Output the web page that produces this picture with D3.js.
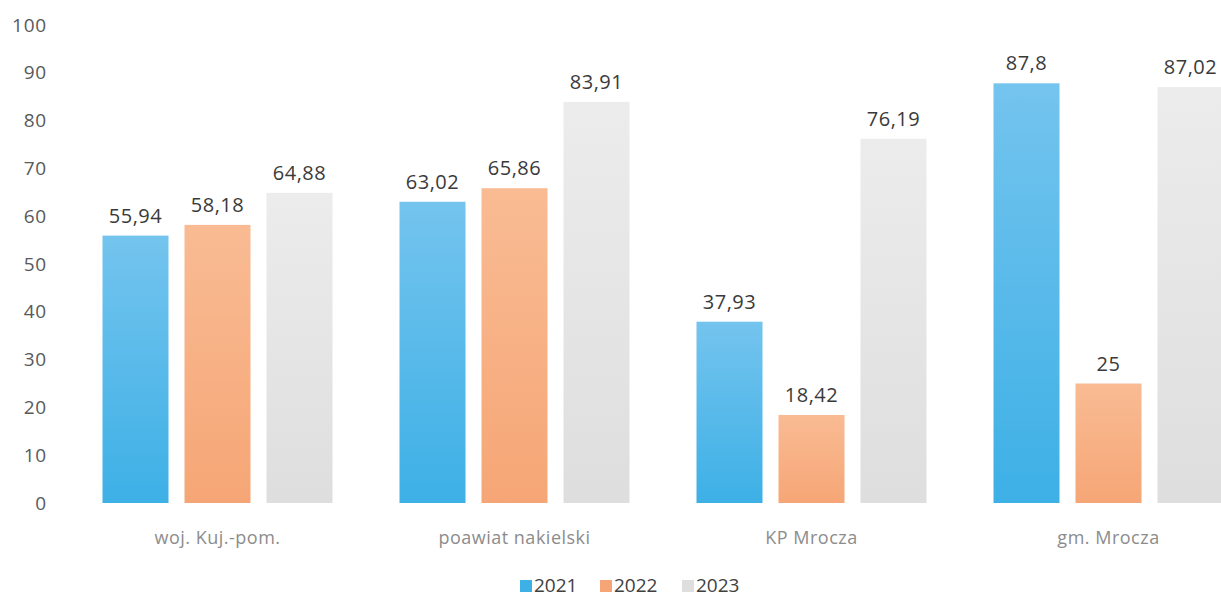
<!DOCTYPE html>
<html>
<head>
<meta charset="utf-8">
<script src="https://cdn.jsdelivr.net/npm/d3@7"></script>
<style>
  html, body { margin: 0; padding: 0; background: #fff; }
  svg { display: block; font-family: "Open Sans", sans-serif; }
</style>
</head>
<body>
<svg id="chart"></svg>
<script>
const categories = ["woj. Kuj.-pom.", "poawiat nakielski", "KP Mrocza", "gm. Mrocza"];
const series = ["2021", "2022", "2023"];
const values2021 = [55.94, 63.02, 37.93, 87.8];
const values2022 = [58.18, 65.86, 18.42, 25];
const values2023 = [64.88, 83.91, 76.19, 87.02];
const yTicks = [0, 10, 20, 30, 40, 50, 60, 70, 80, 90, 100];

const width = 1221, height = 598;
const svg = d3.select("#chart").attr("width", width).attr("height", height);

const colors = {
    "2021": ["#74c4ee", "#3db0e6"],
    "2022": ["#f9bb93", "#f6a676"],
    "2023": ["#ececec", "#dedede"]
};

// gradients for bars
const defs = svg.append("defs");
series.forEach(s => {
    const g = defs.append("linearGradient")
        .attr("id", "grad" + s)
        .attr("x1", 0).attr("y1", 0).attr("x2", 0).attr("y2", 1);
    g.append("stop").attr("offset", "0%").attr("stop-color", colors[s][0]);
    g.append("stop").attr("offset", "100%").attr("stop-color", colors[s][1]);
});

const data = categories.map((c, i) => ({
    category: c,
    values: [values2021[i], values2022[i], values2023[i]]
}));

const x0 = d3.scaleBand()
    .domain(categories)
    .range([69, 1257]);

const x1 = d3.scaleBand()
    .domain(series)
    .range([0, 230])
    .paddingInner(16 / 82);

const y = d3.scaleLinear()
    .domain([0, 100])
    .range([503, 25]);

// y axis labels
const yAxis = svg.append("g")
    .attr("transform", "translate(47,0)")
    .call(d3.axisLeft(y).tickValues(yTicks).tickSize(0).tickPadding(0));
yAxis.select(".domain").remove();
yAxis.selectAll("text")
    .style("font-family", "'Open Sans', sans-serif")
    .style("font-size", "19px")
    .style("letter-spacing", "0.8px")
    .attr("fill", "#595959");

const groups = svg.selectAll(".group")
    .data(data)
    .enter()
    .append("g")
    .attr("class", "group")
    .attr("transform", d => `translate(${x0(d.category) + (x0.bandwidth() - 230) / 2},0)`);

const fmt = v => String(v).replace(".", ",");

groups.selectAll("rect")
    .data(d => d.values.map((v, i) => ({ key: series[i], value: v })))
    .enter()
    .append("rect")
    .attr("x", d => x1(d.key))
    .attr("y", d => y(d.value))
    .attr("width", x1.bandwidth())
    .attr("height", d => y(0) - y(d.value))
    .attr("fill", d => `url(#grad${d.key})`);

groups.selectAll(".label")
    .data(d => d.values.map((v, i) => ({ key: series[i], value: v })))
    .enter()
    .append("text")
    .attr("class", "label")
    .attr("x", d => x1(d.key) + x1.bandwidth() / 2)
    .attr("y", d => y(d.value) - 13)
    .attr("text-anchor", "middle")
    .style("font-size", "20px")
    .style("letter-spacing", "0.5px")
    .attr("fill", "#3a3a3a")
    .text(d => fmt(d.value));

// x axis labels
const xAxis = svg.append("g")
    .attr("transform", "translate(0,531)")
    .call(d3.axisBottom(x0).tickSize(0).tickPadding(0));
xAxis.select(".domain").remove();
xAxis.selectAll("text")
    .style("font-family", "'Open Sans', sans-serif")
    .style("font-size", "18px")
    .style("letter-spacing", "0.5px")
    .attr("fill", "#8c8c8c");

// legend
const legendX = [520, 600, 682];
const legend = svg.append("g");
series.forEach((s, i) => {
    const item = legend.append("g").attr("transform", `translate(${legendX[i]},580)`);
    item.append("rect")
        .attr("width", 12).attr("height", 12)
        .attr("fill", colors[s][1]);
    item.append("text")
        .attr("x", 14).attr("y", 12)
        .style("font-size", "19px")
        .attr("fill", "#404040")
        .text(s);
});
</script>
</body>
</html>
